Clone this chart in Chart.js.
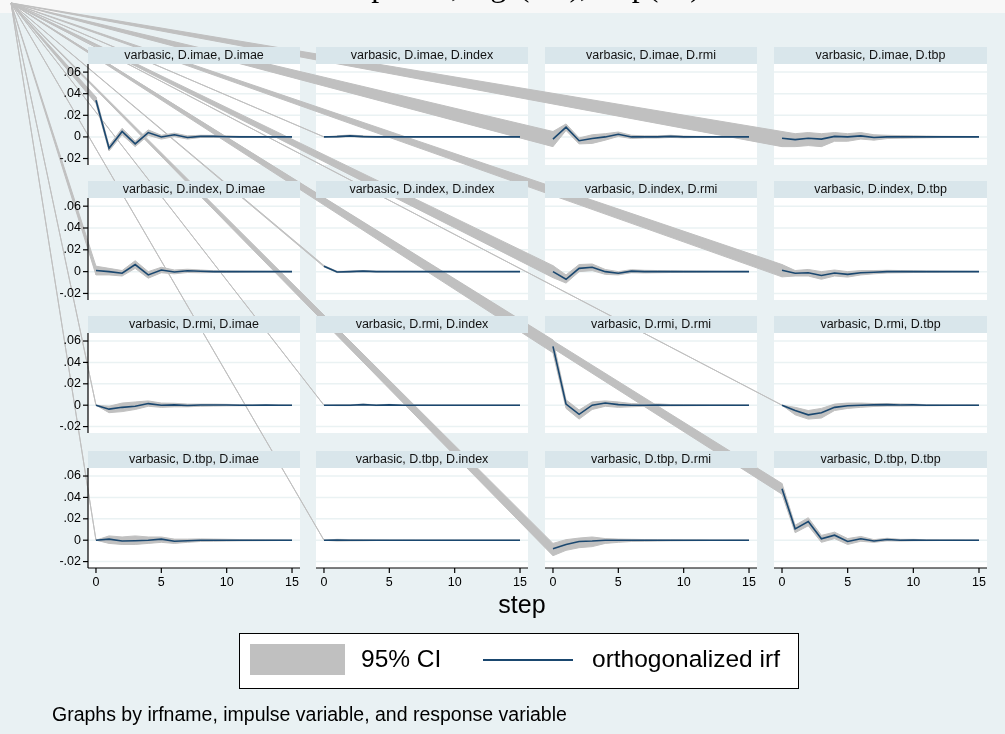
<!DOCTYPE html>
<html>
<head>
<meta charset="utf-8">
<title>varbasic IRF</title>
<script src="https://cdn.jsdelivr.net/npm/chart.js@4.4.1/dist/chart.umd.min.js"></script>
<style>
  html, body { margin: 0; padding: 0; background: #f8f8f8; }
  #wrap { width: 1005px; height: 734px; }
</style>
</head>
<body>
<div id="wrap"><canvas id="irfChart" width="1005" height="734"></canvas></div>
<script>
// ---- data ----
const steps = [0, 1, 2, 3, 4, 5, 6, 7, 8, 9, 10, 11, 12, 13, 14, 15];
const vars = ['imae', 'index', 'rmi', 'tbp'];
const yTickValues = [-0.02, 0, 0.02, 0.04, 0.06];
const yTickLabels = ['-.02', '0', '.02', '.04', '.06'];
const xTickValues = [0, 5, 10, 15];

// impulse D.imae
const irf_imae_imae = [0.034, -0.0105, 0.005, -0.0065, 0.004, 0, 0.002, -0.0005, 0.0005, 0.0005, 0.0002, 0, 0, 0, 0, 0];
const lo_imae_imae  = [0.031, -0.013, 0.002, -0.009, 0.0015, -0.002, 0.0003, -0.002, -0.0005, -0.0005, -0.0006, -0.0005, -0.0004, -0.0003, -0.0003, -0.0002];
const hi_imae_imae  = [0.037, -0.008, 0.008, -0.004, 0.0065, 0.0015, 0.0035, 0.001, 0.0015, 0.0014, 0.001, 0.0005, 0.0004, 0.0003, 0.0003, 0.0002];
const irf_imae_index = [0, 0.0003, 0.001, 0.0003, 0, 0, 0, 0, 0, 0, 0, 0, 0, 0, 0, 0];
const lo_imae_index  = [0, -0.0004, 0.0002, -0.0004, -0.0005, -0.0004, -0.0003, -0.0003, -0.0002, -0.0002, -0.0002, -0.0001, -0.0001, -0.0001, -0.0001, -0.0001];
const hi_imae_index  = [0, 0.001, 0.0018, 0.001, 0.0005, 0.0004, 0.0003, 0.0003, 0.0002, 0.0002, 0.0002, 0.0001, 0.0001, 0.0001, 0.0001, 0.0001];
const irf_imae_rmi = [-0.002, 0.009, -0.0035, -0.0015, 0, 0.0025, 0, 0, 0, 0.0005, 0, 0, 0, 0, 0, 0];
const lo_imae_rmi  = [-0.009, 0.006, -0.0065, -0.006, -0.003, 0.0005, -0.0015, -0.001, -0.001, -0.0005, -0.0008, -0.0005, -0.0004, -0.0003, -0.0003, -0.0002];
const hi_imae_rmi  = [0.005, 0.012, -0.001, 0.002, 0.003, 0.0045, 0.0015, 0.001, 0.001, 0.0015, 0.0008, 0.0005, 0.0004, 0.0003, 0.0003, 0.0002];
const irf_imae_tbp = [-0.0012, -0.0025, -0.0012, -0.002, 0.0005, 0, 0.001, -0.0005, 0, 0, 0.0002, 0, 0, 0, 0, 0];
const lo_imae_tbp  = [-0.009, -0.009, -0.008, -0.009, -0.004, -0.004, -0.002, -0.003, -0.0015, -0.0012, -0.001, -0.0008, -0.0006, -0.0005, -0.0004, -0.0003];
const hi_imae_tbp  = [0.005, 0.003, 0.004, 0.003, 0.004, 0.003, 0.004, 0.002, 0.0015, 0.0012, 0.001, 0.0008, 0.0006, 0.0005, 0.0004, 0.0003];

// impulse D.index
const irf_index_imae = [0.001, 0, -0.0015, 0.0065, -0.003, 0.0015, -0.0003, 0.0008, 0.0003, 0, 0, 0, 0, 0, 0, 0];
const lo_index_imae  = [-0.003, -0.003, -0.004, 0.003, -0.006, -0.001, -0.002, -0.0008, -0.001, -0.0008, -0.0006, -0.0005, -0.0004, -0.0003, -0.0003, -0.0002];
const hi_index_imae  = [0.005, 0.003, 0.001, 0.01, 0, 0.004, 0.0015, 0.0022, 0.0015, 0.0008, 0.0006, 0.0005, 0.0004, 0.0003, 0.0003, 0.0002];
const irf_index_index = [0.005, -0.0003, 0, 0.0005, 0, 0, 0, 0, 0, 0, 0, 0, 0, 0, 0, 0];
const lo_index_index  = [0.0044, -0.0009, -0.0005, 0, -0.0004, -0.0003, -0.0003, -0.0002, -0.0002, -0.0002, -0.0001, -0.0001, -0.0001, -0.0001, -0.0001, -0.0001];
const hi_index_index  = [0.0056, 0.0003, 0.0005, 0.001, 0.0004, 0.0003, 0.0003, 0.0002, 0.0002, 0.0002, 0.0001, 0.0001, 0.0001, 0.0001, 0.0001, 0.0001];
const irf_index_rmi = [0, -0.007, 0.003, 0.004, 0, -0.0015, 0.0005, 0, 0, 0, 0, 0, 0, 0, 0, 0];
const lo_index_rmi  = [-0.0055, -0.0105, 0, 0.001, -0.0025, -0.003, -0.001, -0.0012, -0.001, -0.0008, -0.0006, -0.0005, -0.0004, -0.0003, -0.0003, -0.0002];
const hi_index_rmi  = [0.0055, -0.003, 0.0065, 0.007, 0.002, 0, 0.0018, 0.0012, 0.001, 0.0008, 0.0006, 0.0005, 0.0004, 0.0003, 0.0003, 0.0002];
const irf_index_tbp = [0.0012, -0.0015, -0.001, -0.0035, -0.0012, -0.0025, -0.001, -0.0005, 0, 0, 0, 0, 0, 0, 0, 0];
const lo_index_tbp  = [-0.0048, -0.004, -0.004, -0.007, -0.004, -0.005, -0.003, -0.002, -0.0012, -0.001, -0.0008, -0.0006, -0.0005, -0.0004, -0.0003, -0.0002];
const hi_index_tbp  = [0.0065, 0.001, 0.002, 0, 0.0015, 0, 0.001, 0.001, 0.0012, 0.001, 0.0008, 0.0006, 0.0005, 0.0004, 0.0003, 0.0002];

// impulse D.rmi
const irf_rmi_imae = [0, -0.0037, -0.002, -0.001, 0.0015, 0, 0.0003, -0.0003, 0.0002, 0.0002, 0.0002, 0, 0, 0.0002, 0, 0];
const lo_rmi_imae  = [0, -0.007, -0.006, -0.004, -0.001, -0.002, -0.0015, -0.0015, -0.001, -0.0008, -0.0006, -0.0005, -0.0004, -0.0003, -0.0003, -0.0002];
const hi_rmi_imae  = [0, -0.001, 0.002, 0.003, 0.004, 0.002, 0.0018, 0.001, 0.001, 0.001, 0.0008, 0.0005, 0.0004, 0.0005, 0.0003, 0.0002];
const irf_rmi_index = [0, 0, 0, 0.0005, 0, 0.0003, 0, 0, 0, 0, 0, 0, 0, 0, 0, 0];
const lo_rmi_index  = [0, -0.0004, -0.0004, 0, -0.0004, -0.0002, -0.0002, -0.0002, -0.0001, -0.0001, -0.0001, -0.0001, -0.0001, -0.0001, -0.0001, -0.0001];
const hi_rmi_index  = [0, 0.0004, 0.0004, 0.001, 0.0004, 0.0008, 0.0002, 0.0002, 0.0001, 0.0001, 0.0001, 0.0001, 0.0001, 0.0001, 0.0001, 0.0001];
const irf_rmi_rmi = [0.055, 0.001, -0.0085, 0, 0.002, 0.0005, 0, 0, 0.0002, 0, 0, 0, 0, 0, 0, 0];
const lo_rmi_rmi  = [0.049, -0.003, -0.013, -0.004, -0.001, -0.002, -0.0015, -0.001, -0.0008, -0.0006, -0.0005, -0.0004, -0.0003, -0.0003, -0.0002, -0.0002];
const hi_rmi_rmi  = [0.061, 0.005, -0.0045, 0.003, 0.004, 0.003, 0.0015, 0.001, 0.0012, 0.0006, 0.0005, 0.0004, 0.0003, 0.0003, 0.0002, 0.0002];
const irf_rmi_tbp = [0, -0.005, -0.009, -0.007, -0.002, -0.0005, 0, 0.0003, 0.0005, 0.0002, 0.0003, 0, 0, 0, 0, 0];
const lo_rmi_tbp  = [0, -0.009, -0.013, -0.012, -0.005, -0.003, -0.002, -0.0012, -0.0008, -0.0008, -0.0006, -0.0005, -0.0004, -0.0003, -0.0003, -0.0002];
const hi_rmi_tbp  = [0, -0.002, -0.005, -0.003, 0.001, 0.002, 0.002, 0.0015, 0.0015, 0.0012, 0.001, 0.0005, 0.0004, 0.0003, 0.0003, 0.0002];

// impulse D.tbp
const irf_tbp_imae = [0, 0.001, -0.0008, -0.0005, 0, 0.001, -0.001, -0.0005, 0, 0, 0, 0, 0, 0, 0, 0];
const lo_tbp_imae  = [0, -0.003, -0.004, -0.004, -0.003, -0.002, -0.003, -0.002, -0.0012, -0.001, -0.0008, -0.0006, -0.0005, -0.0004, -0.0003, -0.0002];
const hi_tbp_imae  = [0, 0.004, 0.003, 0.004, 0.003, 0.003, 0.001, 0.001, 0.0012, 0.001, 0.0008, 0.0006, 0.0005, 0.0004, 0.0003, 0.0002];
const irf_tbp_index = [0, 0.0002, 0, 0, 0, 0, 0, 0, 0, 0, 0, 0, 0, 0, 0, 0];
const lo_tbp_index  = [0, -0.0008, -0.0006, -0.0005, -0.0003, -0.0002, -0.0002, -0.0001, -0.0001, -0.0001, -0.0001, -0.0001, -0.0001, -0.0001, -0.0001, -0.0001];
const hi_tbp_index  = [0, 0.0008, 0.0006, 0.0005, 0.0003, 0.0002, 0.0002, 0.0001, 0.0001, 0.0001, 0.0001, 0.0001, 0.0001, 0.0001, 0.0001, 0.0001];
const irf_tbp_rmi = [-0.008, -0.004, -0.0012, -0.0008, 0, 0, 0, 0, 0, 0, 0, 0, 0, 0, 0, 0];
const lo_tbp_rmi  = [-0.0145, -0.0095, -0.007, -0.006, -0.003, -0.002, -0.0012, -0.001, -0.0008, -0.0006, -0.0005, -0.0004, -0.0003, -0.0003, -0.0002, -0.0002];
const hi_tbp_rmi  = [-0.003, 0.0005, 0.002, 0.003, 0.0015, 0.001, 0.0008, 0.0006, 0.0005, 0.0004, 0.0003, 0.0003, 0.0002, 0.0002, 0.0002, 0.0001];
const irf_tbp_tbp = [0.048, 0.0106, 0.0174, 0.0013, 0.0047, -0.0012, 0.0013, -0.0008, 0.0006, 0, 0.0002, 0, 0, 0, 0, 0];
const lo_tbp_tbp  = [0.043, 0.007, 0.0135, -0.002, 0.0015, -0.004, -0.001, -0.002, -0.0006, -0.0008, -0.0005, -0.0004, -0.0003, -0.0003, -0.0002, -0.0002];
const hi_tbp_tbp  = [0.053, 0.014, 0.021, 0.0045, 0.0075, 0.0015, 0.0035, 0.0005, 0.0018, 0.0008, 0.0008, 0.0004, 0.0003, 0.0003, 0.0002, 0.0002];

const series = {
  imae_imae: [irf_imae_imae, lo_imae_imae, hi_imae_imae],
  imae_index: [irf_imae_index, lo_imae_index, hi_imae_index],
  imae_rmi: [irf_imae_rmi, lo_imae_rmi, hi_imae_rmi],
  imae_tbp: [irf_imae_tbp, lo_imae_tbp, hi_imae_tbp],
  index_imae: [irf_index_imae, lo_index_imae, hi_index_imae],
  index_index: [irf_index_index, lo_index_index, hi_index_index],
  index_rmi: [irf_index_rmi, lo_index_rmi, hi_index_rmi],
  index_tbp: [irf_index_tbp, lo_index_tbp, hi_index_tbp],
  rmi_imae: [irf_rmi_imae, lo_rmi_imae, hi_rmi_imae],
  rmi_index: [irf_rmi_index, lo_rmi_index, hi_rmi_index],
  rmi_rmi: [irf_rmi_rmi, lo_rmi_rmi, hi_rmi_rmi],
  rmi_tbp: [irf_rmi_tbp, lo_rmi_tbp, hi_rmi_tbp],
  tbp_imae: [irf_tbp_imae, lo_tbp_imae, hi_tbp_imae],
  tbp_index: [irf_tbp_index, lo_tbp_index, hi_tbp_index],
  tbp_rmi: [irf_tbp_rmi, lo_tbp_rmi, hi_tbp_rmi],
  tbp_tbp: [irf_tbp_tbp, lo_tbp_tbp, hi_tbp_tbp]
};

// ---- layout (pixels) ----
const COL_X = [[88, 300], [316, 528], [545, 757], [774, 987]];
const ROW_Y = [[64, 165], [198, 300], [333, 433], [468, 568]];
const STRIP_H = 17;
const ORIGIN = { x: 11, y: 3 };   // where the exported band paths start
const CI_GREY = '#c0c0c0';
const IRF_BLUE = '#1a476f';
const GRID = '#eaf2f3';
const SANS = '"Liberation Sans", Arial, sans-serif';

const toPoints = arr => steps.map((s, i) => ({ x: s, y: arr[i] }));

const panels = [];
const datasets = [];
vars.forEach((imp, r) => {
  vars.forEach((resp, c) => {
    const [irf, lo, hi] = series[imp + '_' + resp];
    panels.push({ r, c, title: 'varbasic, D.' + imp + ', D.' + resp, lo, hi });
    const ids = { xAxisID: 'x' + c, yAxisID: 'y' + r };
    datasets.push({ label: '95% CI', data: toPoints(hi), ...ids, borderColor: CI_GREY, borderWidth: 1,
      pointRadius: 0, fill: false, order: 2, clip: false });
    datasets.push({ label: '95% CI', data: toPoints(lo), ...ids, borderColor: CI_GREY, borderWidth: 1,
      backgroundColor: CI_GREY, pointRadius: 0, fill: '-1', order: 2, clip: false });
    datasets.push({ label: 'orthogonalized irf', data: toPoints(irf), ...ids, borderColor: IRF_BLUE,
      borderWidth: 1.6, pointRadius: 0, fill: false, order: 1, clip: false });
  });
});

const scales = {};
for (let k = 0; k < 4; k++) {
  scales['x' + k] = { type: 'linear', display: false, min: -0.61, max: 15.61 };
  scales['y' + k] = { type: 'linear', display: false, min: -0.026, max: 0.0675 };
}

const panelLayout = {
  id: 'panelLayout',
  afterLayout(chart) {
    COL_X.forEach(([l, r], c) => {
      const s = chart.scales['x' + c];
      s.left = l; s.right = r; s.width = r - l; s.configure();
    });
    ROW_Y.forEach(([t, b], r) => {
      const s = chart.scales['y' + r];
      s.top = t; s.bottom = b; s.height = b - t; s.configure();
    });
  },
  beforeDraw(chart) {
    const ctx = chart.ctx;
    ctx.save();
    ctx.fillStyle = '#f8f8f8';
    ctx.fillRect(0, 0, chart.width, chart.height);
    ctx.fillStyle = '#e9f1f3';
    ctx.fillRect(0, 13, chart.width, chart.height - 13);
    // title, mostly above the picture: only the descenders show
    ctx.fillStyle = '#000';
    ctx.font = '32px "Liberation Serif", "Times New Roman", serif';
    ctx.textAlign = 'left';
    ctx.textBaseline = 'alphabetic';
    ctx.fillText('VAR impulses, lags(1 2), step(15)', 266, -4);
    ctx.restore();
  },
  beforeDatasetsDraw(chart) {
    const ctx = chart.ctx;
    ctx.save();
    panels.forEach(p => {
      const [l, r] = COL_X[p.c];
      const ys = chart.scales['y' + p.r];
      ctx.fillStyle = '#fff';
      ctx.fillRect(l, ys.top, r - l, ys.bottom - ys.top);
      ctx.strokeStyle = GRID;
      ctx.lineWidth = 1.5;
      yTickValues.forEach(v => {
        const y = ys.getPixelForValue(v);
        ctx.beginPath(); ctx.moveTo(l, y); ctx.lineTo(r, y); ctx.stroke();
      });
    });
    // band paths that start at the page origin
    ctx.fillStyle = CI_GREY;
    ctx.strokeStyle = CI_GREY;
    ctx.lineWidth = 1;
    ctx.lineJoin = 'round';
    panels.forEach(p => {
      const xs = chart.scales['x' + p.c], ys = chart.scales['y' + p.r];
      const x0 = xs.getPixelForValue(steps[0]);
      ctx.beginPath();
      ctx.moveTo(ORIGIN.x, ORIGIN.y);
      ctx.lineTo(x0, ys.getPixelForValue(p.hi[0]));
      ctx.lineTo(x0, ys.getPixelForValue(p.lo[0]));
      ctx.closePath();
      ctx.fill(); ctx.stroke();
    });
    ctx.restore();
  },
  afterDatasetsDraw(chart) {
    const ctx = chart.ctx;
    ctx.save();
    // strips
    panels.forEach(p => {
      const [l, r] = COL_X[p.c];
      const top = ROW_Y[p.r][0] - STRIP_H;
      ctx.fillStyle = '#d9e6eb';
      ctx.fillRect(l, top, r - l, STRIP_H);
      ctx.fillStyle = '#111';
      ctx.font = '12.5px ' + SANS;
      ctx.textAlign = 'center';
      ctx.textBaseline = 'middle';
      ctx.fillText(p.title, (l + r) / 2, top + STRIP_H / 2 + 0.5);
    });
    ctx.strokeStyle = '#000';
    ctx.lineWidth = 1.2;
    ctx.fillStyle = '#000';
    ctx.font = '12.5px ' + SANS;
    // y axes, first column
    for (let r = 0; r < 4; r++) {
      const ys = chart.scales['y' + r];
      const x = COL_X[0][0];
      ctx.beginPath(); ctx.moveTo(x, ys.top); ctx.lineTo(x, ys.bottom); ctx.stroke();
      ctx.textAlign = 'right';
      ctx.textBaseline = 'middle';
      yTickValues.forEach((v, i) => {
        const y = ys.getPixelForValue(v);
        ctx.beginPath(); ctx.moveTo(x - 5, y); ctx.lineTo(x, y); ctx.stroke();
        ctx.fillText(yTickLabels[i], x - 7, y);
      });
    }
    // x axes, bottom row
    const yb = ROW_Y[3][1];
    for (let c = 0; c < 4; c++) {
      const xs = chart.scales['x' + c];
      ctx.beginPath(); ctx.moveTo(COL_X[c][0], yb); ctx.lineTo(COL_X[c][1], yb); ctx.stroke();
      ctx.textAlign = 'center';
      ctx.textBaseline = 'middle';
      xTickValues.forEach(v => {
        const x = xs.getPixelForValue(v);
        ctx.beginPath(); ctx.moveTo(x, yb); ctx.lineTo(x, yb + 5); ctx.stroke();
        ctx.fillText(String(v), x, yb + 15);
      });
    }
    // axis title
    ctx.font = '25px ' + SANS;
    ctx.textAlign = 'center';
    ctx.textBaseline = 'alphabetic';
    ctx.fillText('step', 522, 613);
    // legend
    ctx.fillStyle = '#fff';
    ctx.fillRect(239, 633, 559, 55);
    ctx.lineWidth = 1;
    ctx.strokeRect(239.5, 633.5, 559, 55);
    ctx.fillStyle = CI_GREY;
    ctx.fillRect(250, 644, 95, 31);
    ctx.strokeStyle = IRF_BLUE;
    ctx.lineWidth = 2;
    ctx.beginPath(); ctx.moveTo(483, 660); ctx.lineTo(573, 660); ctx.stroke();
    ctx.fillStyle = '#000';
    ctx.font = '24.5px ' + SANS;
    ctx.textAlign = 'left';
    ctx.textBaseline = 'middle';
    ctx.fillText('95% CI', 361, 660);
    ctx.fillText('orthogonalized irf', 592, 660);
    // note
    ctx.font = '19.5px ' + SANS;
    ctx.textBaseline = 'alphabetic';
    ctx.fillText('Graphs by irfname, impulse variable, and response variable', 52, 721);
    ctx.restore();
  }
};

new Chart(document.getElementById('irfChart'), {
  type: 'line',
  data: { datasets },
  options: {
    responsive: false,
    animation: false,
    devicePixelRatio: 1,
    layout: { padding: 0 },
    plugins: {
      legend: { display: false },
      tooltip: { enabled: false },
      filler: { propagate: false }
    },
    scales
  },
  plugins: [panelLayout]
});
</script>
</body>
</html>
